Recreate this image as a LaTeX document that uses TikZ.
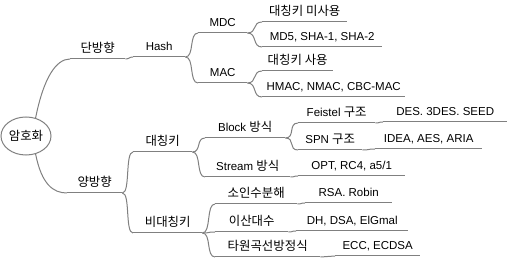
\documentclass[tikz,border=0pt]{standalone}
\usepackage{fontspec}
\setmainfont{Liberation Sans}
\newfontfamily\kr[Scale=1.08]{Noto Sans CJK KR}
\usetikzlibrary{shapes.geometric}
\definecolor{branch}{RGB}{128,128,128}

\begin{document}
\begin{tikzpicture}[x=1pt, y=-1pt,
  every node/.style={inner sep=2pt},
  topic/.style={anchor=south west, inner xsep=0pt, inner ysep=4pt,
    text height=9pt, text depth=2pt, font=\fontsize{11.5}{13}\selectfont},
  link/.style={draw=branch, line width=1pt}]
\useasboundingbox (0,0) rectangle (507,259);
\node[ellipse, link, minimum width=50pt, minimum height=38pt, inner sep=0pt,
  font=\kr\fontsize{11.5}{13}\selectfont] (root) at (26,136) {암호화};
\node[topic, minimum width=55pt] (dan) at (70,59) {\kr 단방향};
\node[topic, minimum width=52pt] (hash) at (133,57) {Hash};
\node[topic, minimum width=49pt] (mdc) at (198,33) {MDC};
\node[topic, minimum width=49pt] (mac) at (198,83) {MAC};
\node[topic, minimum width=85pt] (nokey) at (262,22) {\kr 대칭키 미사용};
\node[topic, minimum width=120pt] (md5) at (262,47) {MD5, SHA-1, SHA-2};
\node[topic, minimum width=71pt] (usekey) at (262,71) {\kr 대칭키 사용};
\node[topic, minimum width=143pt] (hmac) at (262,97) {HMAC, NMAC, CBC-MAC};
\node[topic, minimum width=55pt] (yang) at (67,193) {\kr 양방향};
\node[topic, minimum width=59pt] (sym) at (133,152) {\kr 대칭키};
\node[topic, minimum width=69pt] (asym) at (133,233) {\kr 비대칭키};
\node[topic, minimum width=80pt] (block) at (205,138) {Block {\kr 방식}};
\node[topic, minimum width=85pt] (stream) at (205,177) {Stream {\kr 방식}};
\node[topic, minimum width=107pt] (opt) at (298,176) {OPT, RC4, a5/1};
\node[topic, minimum width=77pt] (feistel) at (298,123) {Feistel {\kr 구조}};
\node[topic, minimum width=124pt] (des) at (383,122) {DES. 3DES. SEED};
\node[topic, minimum width=64pt] (spn) at (298,150) {SPN {\kr 구조}};
\node[topic, minimum width=107pt] (idea) at (375,149) {IDEA, AES, ARIA};
\node[topic, minimum width=82pt] (factor) at (215,204) {\kr 소인수분해};
\node[topic, minimum width=87pt] (rsa) at (305,203) {RSA. Robin};
\node[topic, minimum width=73pt] (dlog) at (215,232) {\kr 이산대수};
\node[topic, minimum width=112pt] (dh) at (296,231) {DH, DSA, ElGmal};
\node[topic, minimum width=105pt] (ellip) at (215,257) {\kr 타원곡선방정식};
\node[topic, minimum width=85pt] (ecc) at (335,256) {ECC, ECDSA};
\foreach \n in {dan,hash,mdc,mac,nokey,md5,usekey,hmac,yang,sym,asym,block,
  stream,opt,feistel,des,spn,idea,factor,rsa,dlog,dh,ellip,ecc}
  \draw[link] (\n.south west) -- (\n.south east);
\draw[link] (root.62) .. controls +(8,-40) and +(-14,0) .. (dan.south west);
\draw[link] (root.-62) .. controls +(6,30) and +(-14,0) .. (yang.south west);
\draw[link] (dan.south east) .. controls +(4,0) and +(-4,0) .. (hash.south west);
\draw[link] (hash.south east) .. controls +(9,0) and +(-9,0) .. (mdc.south west);
\draw[link] (hash.south east) .. controls +(9,0) and +(-9,0) .. (mac.south west);
\draw[link] (mdc.south east) .. controls +(10,0) and +(-10,0) .. (nokey.south west);
\draw[link] (mdc.south east) .. controls +(10,0) and +(-10,0) .. (md5.south west);
\draw[link] (mac.south east) .. controls +(10,0) and +(-10,0) .. (usekey.south west);
\draw[link] (mac.south east) .. controls +(10,0) and +(-10,0) .. (hmac.south west);
\draw[link] (yang.south east) .. controls +(8,0) and +(-8,0) .. (sym.south west);
\draw[link] (yang.south east) .. controls +(8,0) and +(-8,0) .. (asym.south west);
\draw[link] (sym.south east) .. controls +(9,0) and +(-9,0) .. (block.south west);
\draw[link] (sym.south east) .. controls +(9,0) and +(-9,0) .. (stream.south west);
\draw[link] (block.south east) .. controls +(10,0) and +(-10,0) .. (feistel.south west);
\draw[link] (block.south east) .. controls +(10,0) and +(-10,0) .. (spn.south west);
\draw[link] (stream.south east) .. controls +(5,0) and +(-5,0) .. (opt.south west);
\draw[link] (feistel.south east) .. controls +(5,0) and +(-5,0) .. (des.south west);
\draw[link] (spn.south east) .. controls +(8,0) and +(-8,0) .. (idea.south west);
\draw[link] (asym.south east) .. controls +(9,0) and +(-9,0) .. (factor.south west);
\draw[link] (asym.south east) .. controls +(9,0) and +(-9,0) .. (dlog.south west);
\draw[link] (asym.south east) .. controls +(9,0) and +(-9,0) .. (ellip.south west);
\draw[link] (factor.south east) .. controls +(5,0) and +(-5,0) .. (rsa.south west);
\draw[link] (dlog.south east) .. controls +(5,0) and +(-5,0) .. (dh.south west);
\draw[link] (ellip.south east) .. controls +(8,0) and +(-8,0) .. (ecc.south west);
\end{tikzpicture}
\end{document}
